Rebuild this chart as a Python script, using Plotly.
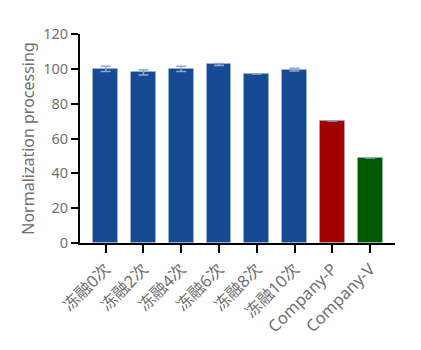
import plotly.graph_objects as go

categories = ["冻融0次", "冻融2次", "冻融4次", "冻融6次", "冻融8次", "冻融10次", "Company-P", "Company-V"]
values = [100.0, 98.0, 100.0, 102.5, 97.0, 99.5, 70.0, 48.8]
errors = [1.5, 1.5, 1.5, 0.6, None, 0.8, None, None]
colors = ["#164a94"] * 6 + ["#a00000", "#005a00"]
y_ticks = [0, 20, 40, 60, 80, 100, 120]

font_family = "Noto Sans, Noto Sans CJK SC, sans-serif"
grey = "#707070"

fig = go.Figure(
    go.Bar(
        x=categories,
        y=values,
        width=0.66,
        marker=dict(color=colors, line=dict(color="rgba(160,185,220,0.5)", width=1)),
        error_y=dict(type="data", array=errors, visible=True, color="#8ea8cc", thickness=1.5, width=5),
    )
)

fig.update_layout(
    width=421,
    height=350,
    margin=dict(l=80, r=26, t=34, b=107),
    paper_bgcolor="white",
    plot_bgcolor="white",
    showlegend=False,
    bargap=0,
    font=dict(family=font_family, color=grey, size=14),
)
fig.update_xaxes(
    range=[-0.68, 7.66],
    showline=True,
    linecolor="black",
    linewidth=2,
    ticks="outside",
    ticklen=8,
    tickwidth=2,
    tickcolor="black",
    tickangle=-45,
    tickfont=dict(size=16.5, color=grey),
    showgrid=False,
    zeroline=False,
)
fig.update_yaxes(
    range=[0, 120],
    tickvals=y_ticks,
    showline=True,
    linecolor="black",
    linewidth=2,
    ticks="outside",
    ticklen=7,
    tickwidth=2,
    tickcolor="black",
    tickfont=dict(size=14.5, color=grey),
    title=dict(text="Normalization processing", font=dict(size=16, color=grey), standoff=5),
    showgrid=False,
    zeroline=False,
)

fig.write_html("out.html")
